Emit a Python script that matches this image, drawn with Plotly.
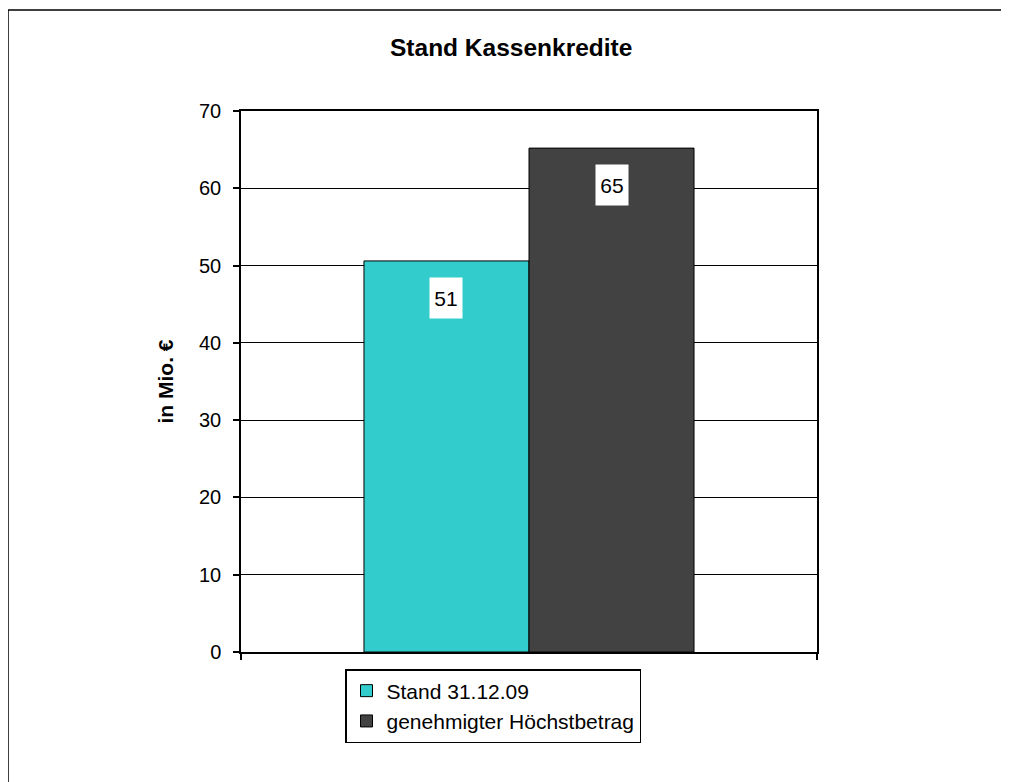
import plotly.graph_objects as go

# Data
categories = [""]
series_names = ["Stand 31.12.09", "genehmigter Höchstbetrag"]
series_values = [[50.6], [65.2]]
series_colors = ["#33CCCC", "#424242"]
y_ticks = [0, 10, 20, 30, 40, 50, 60, 70]

FONT = "Liberation Sans, Arial, sans-serif"
OFF = 8  # page body margin
W, H = 1009 - OFF, 782 - OFF
PL, PR, PT, PB = 241, 817, 111, 652  # plot area in page pixels
L, T = PL - OFF, PT - OFF
R, B = W - (PR - OFF), H - (PB - OFF)
PW, PH = PR - PL, PB - PT
BARGAP = 0.427

def px_x(p):
    return (p - PL) / PW

def px_y(p):
    return (PB - p) / PH

fig = go.Figure()
for name, vals, col in zip(series_names, series_values, series_colors):
    fig.add_trace(go.Bar(
        x=categories, y=vals, name=name,
        marker=dict(color=col, line=dict(color="black", width=1)),
    ))

annotations = []
n = len(series_names)
bw = (1 - BARGAP) / n
for i, vals in enumerate(series_values):
    xc = -(1 - BARGAP) / 2 + bw * (i + 0.5)
    for v in vals:
        annotations.append(dict(
            x=xc, y=v, xref="x", yref="y", text=f"{round(v)}",
            showarrow=False, yanchor="top", xanchor="center", yshift=-16,
            bgcolor="white", width=32, height=40, borderpad=0,
            font=dict(family=FONT, size=21, color="black"),
        ))

annotations.append(dict(
    x=px_x(511), y=px_y(47), xref="paper", yref="paper",
    text="<b>Stand Kassenkredite</b>", showarrow=False,
    xanchor="center", yanchor="middle",
    font=dict(family=FONT, size=24.5, color="black"),
))
annotations.append(dict(
    x=px_x(165), y=0.5, xref="paper", yref="paper",
    text="<b>in Mio. €</b>", showarrow=False, textangle=-90,
    xanchor="center", yanchor="middle",
    font=dict(family=FONT, size=21, color="black"),
))

fig.update_layout(
    width=W, height=H,
    margin=dict(l=L, r=R, t=T, b=B),
    paper_bgcolor="white", plot_bgcolor="white",
    barmode="group", bargap=BARGAP, bargroupgap=0,
    font=dict(family=FONT, size=21, color="black"),
    showlegend=True,
    legend=dict(
        x=px_x(345), y=px_y(669), xanchor="left", yanchor="top",
        bordercolor="black", borderwidth=1.5, bgcolor="white",
        font=dict(family=FONT, size=21, color="black"),
        itemwidth=30, traceorder="normal",
    ),
    annotations=annotations,
    shapes=[dict(
        type="rect", xref="paper", yref="paper",
        x0=px_x(8), x1=px_x(1030), y0=px_y(800), y1=px_y(10),
        line=dict(color="black", width=1.5), fillcolor="rgba(0,0,0,0)",
        layer="below",
    )],
)

fig.update_xaxes(
    type="category", range=[-0.5, 0.5],
    showline=True, linecolor="black", linewidth=1.5, mirror=True,
    ticks="outside", tickson="boundaries", ticklen=6, tickcolor="black",
    tickwidth=1.5, showticklabels=False, showgrid=False, zeroline=False,
)
fig.update_yaxes(
    range=[0, 70], tickvals=y_ticks, ticktext=[str(t) for t in y_ticks],
    showline=True, linecolor="black", linewidth=1.5, mirror=True,
    ticks="outside", ticklen=6, tickcolor="black", tickwidth=1.5,
    ticklabelstandoff=8,
    showgrid=True, gridcolor="black", gridwidth=1.2, zeroline=False,
    tickfont=dict(family=FONT, size=20, color="black"),
)

fig.write_html("out.html")
